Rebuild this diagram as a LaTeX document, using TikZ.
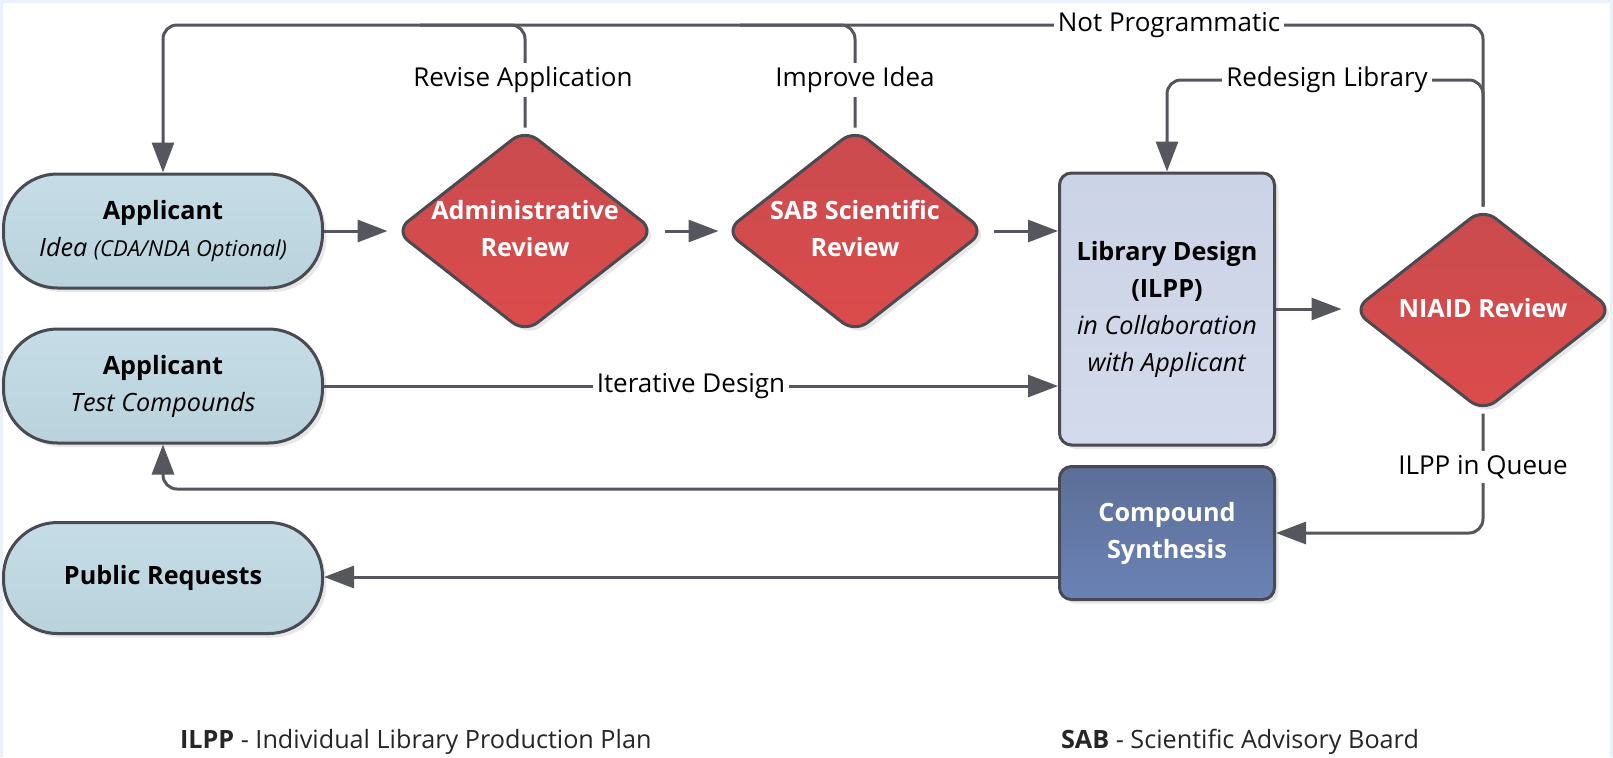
\documentclass[tikz,border=0pt]{standalone}
\usepackage{fontspec}
\setmainfont{Open Sans}
\usetikzlibrary{shapes.geometric,arrows.meta,shadows}
\definecolor{bgblue}{HTML}{EAF1FA}
\definecolor{bordercol}{HTML}{4A4A52}
\definecolor{linecol}{HTML}{56565E}
\definecolor{termA}{HTML}{C6DDE7}
\definecolor{termB}{HTML}{B9D2DC}
\definecolor{redA}{HTML}{C94B4E}
\definecolor{redB}{HTML}{DC4B4B}
\definecolor{lavA}{HTML}{CBD3E6}
\definecolor{lavB}{HTML}{D3DAEB}
\definecolor{slateA}{HTML}{5D6F97}
\definecolor{slateB}{HTML}{6A82B6}
\newcommand\nodefont{\fontsize{12.6}{18.5}\selectfont}
\newcommand\lblfont{\fontsize{13}{15}\selectfont}
\newcommand\legfont{\fontsize{12.6}{15}\selectfont}
\newcommand\diatext[1]{\smash{\makebox[0pt]{\raisebox{-3pt}{\begin{tabular}{@{}c@{}}#1\end{tabular}}}}}
\begin{document}
\begin{tikzpicture}[x=0.5pt,y=-0.5pt,
  base/.style={draw=bordercol, line width=1.5pt, align=center, font=\nodefont,
    drop shadow={shadow xshift=2pt, shadow yshift=-2pt, fill=black!18}},
  term/.style={base, rectangle, rounded corners=27pt, minimum width=159.5pt,
    minimum height=57pt, top color=termA, bottom color=termB, text=black},
  dia/.style={base, diamond, rounded corners=8pt, minimum width=130pt,
    minimum height=102pt, inner sep=0pt, top color=redA, bottom color=redB, text=white},
  libbox/.style={base, rectangle, rounded corners=6pt, minimum width=107.5pt,
    minimum height=136pt, top color=lavA, bottom color=lavB, text=black},
  compbox/.style={base, rectangle, rounded corners=6pt, minimum width=107.5pt,
    minimum height=66.5pt, top color=slateA, bottom color=slateB, text=white},
  conn/.style={draw=linecol, line width=1.5pt, rounded corners=7pt,
    -{Triangle[length=15pt,width=11pt]}},
  plain/.style={draw=linecol, line width=1.5pt, rounded corners=7pt},
  lbl/.style={fill=white, inner sep=2pt, font=\lblfont, text=black},
  legend/.style={anchor=west, font=\legfont, text=black!85}]
\useasboundingbox (0,0) rectangle (1613,757);
\fill[bgblue] (0,0) rectangle (1613,757);
\fill[white] (3,3) rectangle (1610,757);

% nodes
\node[term] (app1) at (163,231) {\textbf{Applicant}\\\textit{Idea {\fontsize{11}{12}\selectfont(CDA/NDA Optional)}}};
\node[term] (app2) at (163,386) {\textbf{Applicant}\\\textit{Test Compounds}};
\node[term, minimum height=55.5pt] (pub) at (163,578) {\textbf{Public Requests}};
\node[dia] (adm) at (525,231) {\diatext{\textbf{Administrative}\\\textbf{Review}}};
\node[dia] (sab) at (855,231) {\diatext{\textbf{SAB Scientific}\\\textbf{Review}}};
\node[dia] (niaid) at (1483,310) {\diatext{\textbf{NIAID Review}}};
\node[libbox] (lib) at (1167,309) {\textbf{Library Design}\\\textbf{(ILPP)}\\\textit{in Collaboration}\\\textit{with Applicant}};
\node[compbox] (comp) at (1167,533) {\textbf{Compound}\\\textbf{Synthesis}};

% helper coordinates
\coordinate (tl) at (163,25);
\coordinate (ma) at (420,25);
\coordinate (ms) at (740,25);
\coordinate (rd) at (1167,80);

% connectors
\draw[conn, shorten >=3pt] (app1.east) -- (adm.west);
\draw[conn, shorten <=4pt, shorten >=2.5pt] (adm.east) -- (sab.west);
\draw[conn, shorten <=3.5pt] (sab.east) -- (sab.east -| lib.west);
\draw[conn, shorten >=5pt] (lib.east) -- (lib.east -| niaid.west);
\draw[conn] (app2.east) -- (app2.east -| lib.west);
\draw[conn] (niaid.south) |- (comp.east);
\draw[conn] ([yshift=22pt]comp.west) -| (app2.south);
\draw[conn] ([yshift=-22pt]comp.west) -- ([yshift=-22pt]comp.west -| pub.east);
\draw[conn] (niaid.north) |- (rd) -- (lib.north);
\draw[conn] (niaid.north) |- (tl) -- (app1.north);
\draw[plain] (adm.north) |- (ma);
\draw[plain] (sab.north) |- (ms);

% labels
\node[lbl] (lnp) at (1169,25) {Not Programmatic};
\node[lbl] (lra) at (523,80) {Revise Application};
\node[lbl] (lii) at (855,80) {Improve Idea};
\node[lbl] (lrl) at (1327,80) {Redesign Library};
\node[lbl] (liq) at (1483,467) {ILPP in Queue};
\node[lbl] (lid) at (691,386) {Iterative Design};

% legend
\node[legend] (leg1) at (173,742) {\textbf{ILPP} - Individual Library Production Plan};
\node[legend] (leg2) at (1054,742) {\textbf{SAB} - Scientific Advisory Board};
\end{tikzpicture}
\end{document}
